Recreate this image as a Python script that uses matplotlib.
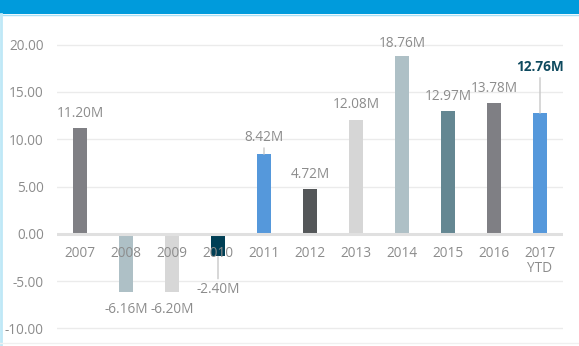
import matplotlib
matplotlib.use("Agg")
import matplotlib.pyplot as plt
from matplotlib.patches import Rectangle
from matplotlib.lines import Line2D

categories = ["2007", "2008", "2009", "2010", "2011", "2012", "2013", "2014", "2015", "2016", "2017\nYTD"]
values = [11.20, -6.16, -6.20, -2.40, 8.42, 4.72, 12.08, 18.76, 12.97, 13.78, 12.76]
labels = ["11.20M", "-6.16M", "-6.20M", "-2.40M", "8.42M", "4.72M", "12.08M", "18.76M", "12.97M", "13.78M", "12.76M"]
colors = ["#7f7f84", "#aec0c6", "#d7d7d7", "#003f55", "#5598db", "#545759",
          "#d6d6d6", "#aec0c6", "#648792", "#7f7f84", "#5598db"]
yticks = [-10, -5, 0, 5, 10, 15, 20]
# label offsets (points) from bar end, and whether a leader line is drawn
label_offsets = [10.5, -12.5, -12.5, -23.5, 12.0, 10.5, 10.5, 9.2, 10.6, 10.5, 33.0]
leaders = [False, False, False, True, True, False, False, False, False, False, True]

plt.rcParams['font.family'] = ['Open Sans', 'DejaVu Sans']
W, H = 579, 346
fig = plt.figure(figsize=(W / 100, H / 100), dpi=100)
fig.patch.set_facecolor("white")

# header band and frame
fig.add_artist(Rectangle((0, 1 - 14 / H), 1, 14 / H, transform=fig.transFigure,
                         facecolor="#009bdc", edgecolor="none"))
fig.add_artist(Line2D([0, 1], [1 - 14.5 / H, 1 - 14.5 / H], transform=fig.transFigure,
                      color="#a8e0f5", lw=1))
fig.add_artist(Line2D([1 / W, 1 / W], [0, 1 - 14 / H], transform=fig.transFigure,
                      color="#bfe8f7", lw=2))
fig.add_artist(Line2D([0, 1], [3 / H, 3 / H], transform=fig.transFigure,
                      color="#f0f0f0", lw=1))

ax = fig.add_axes([57 / W, 12 / H, 506 / W, 303.5 / H])
x = list(range(len(categories)))
ax.set_axisbelow(False)
for yv in yticks:
    if yv != 0:
        ax.axhline(yv, color="#ebebeb", lw=1, zorder=0.5)
ax.bar(x, values, width=0.32, color=colors, zorder=1)
ax.axhline(0, color="#e0e0e0", lw=2.2, zorder=1.5)
ax.set_xlim(-0.5, 10.5)
ax.set_ylim(-10.6, 21.5)

ax.set_yticks(yticks)
ax.set_yticklabels([f"{v:.2f}" for v in yticks])
ax.set_xticks(x)
ax.set_xticklabels(categories)
for s in ax.spines.values():
    s.set_visible(False)
ax.spines['bottom'].set_position(('data', 0))
ax.tick_params(axis='both', length=0, labelsize=9.8, labelcolor="#8c8c8c")
ax.tick_params(axis='y', pad=9.4)
ax.tick_params(axis='x', pad=8.5)
for t in ax.get_xticklabels():
    t.set_linespacing(1.0)

for i, (v, lab, off, ld) in enumerate(zip(values, labels, label_offsets, leaders)):
    last = i == len(values) - 1
    ax.annotate(lab, xy=(i, v), xytext=(0, off), textcoords="offset points",
                ha="center", va="center", fontsize=9.8,
                color="#0e4a5f" if last else "#8c8c8c",
                fontweight="bold" if last else "normal", zorder=4)
    if ld:
        sign = 1 if off > 0 else -1
        end = off - 7.5 * sign
        ax.annotate("", xy=(i, v), xytext=(0, end), textcoords="offset points",
                    arrowprops=dict(arrowstyle="-", color="#c8c8c8", lw=1,
                                    shrinkA=0, shrinkB=0), zorder=4)

fig.savefig("out.png", dpi=100, facecolor="white")
